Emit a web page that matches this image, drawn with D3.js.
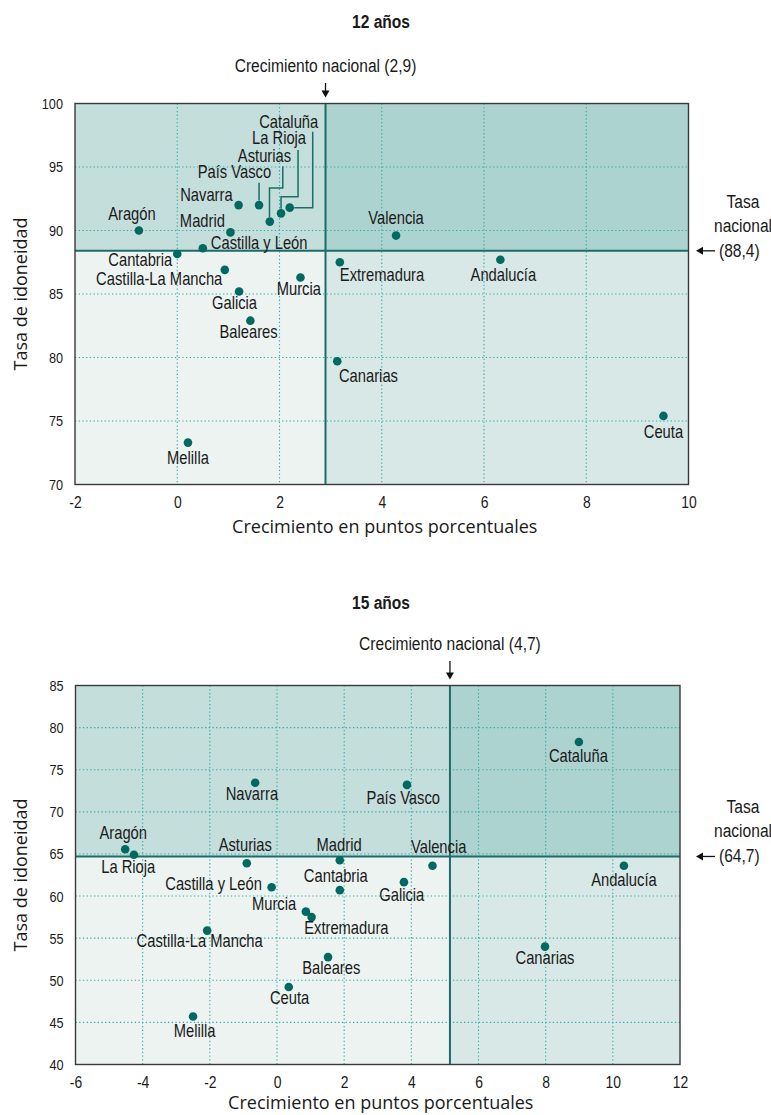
<!DOCTYPE html>
<html><head><meta charset="utf-8">
<script src="https://cdn.jsdelivr.net/npm/d3@7"></script>
<style>body{margin:0;background:#fff}</style>
</head><body><svg id="c" width="771" height="1115"></svg>
<script>
// ---------- DATA ----------
const regions12 = ["Aragón","Navarra","País Vasco","Asturias","La Rioja","Cataluña","Madrid","Castilla y León","Cantabria","Castilla-La Mancha","Murcia","Galicia","Baleares","Melilla","Canarias","Extremadura","Valencia","Andalucía","Ceuta"];
const growth12 = [-0.75,1.2,1.6,1.81,2.03,2.2,1.04,0.5,0.0,0.93,2.41,1.21,1.43,0.21,3.13,3.18,4.28,6.32,9.51];
const rate12   = [90.0,92.0,92.0,90.7,91.35,91.8,89.85,88.6,88.15,86.9,86.3,85.2,82.9,73.3,79.7,87.5,89.6,87.7,75.4];
const national12 = {growth: 2.9, rate: 88.4, growthText: "2,9", rateText: "88,4"};
const xTicks12 = [-2,0,2,4,6,8,10];
const yTicks12 = [70,75,80,85,90,95,100];

const regions15 = ["Navarra","Aragón","La Rioja","Asturias","Castilla y León","Madrid","Cantabria","Murcia","Extremadura","Castilla-La Mancha","Baleares","Ceuta","Melilla","Valencia","Galicia","Andalucía","Canarias","Cataluña","País Vasco"];
const growth15 = [-0.65,-4.52,-4.26,-0.9,-0.16,1.87,1.87,0.86,1.03,-2.08,1.52,0.35,-2.5,4.63,3.78,10.33,7.98,8.99,3.87];
const rate15   = [73.45,65.55,64.9,63.9,61.05,64.25,60.7,58.15,57.5,55.9,52.75,49.2,45.7,63.6,61.65,63.6,54.0,78.3,73.2];
const national15 = {growth: 4.7, growthLine: 5.15, rate: 64.7, growthText: "4,7", rateText: "64,7"};
const xTicks15 = [-6,-4,-2,0,2,4,6,8,10,12];
const yTicks15 = [40,45,50,55,60,65,70,75,80,85];

// ---------- LAYOUT (label offsets from dot, px) ----------
const labels12 = {
  "Aragón":[-7,-11,"middle"], "Navarra":[-6,-4.5,"end"], "Madrid":[-5.5,-5,"end"],
  "Castilla y León":[8,0.7,"start"], "Cantabria":[-5,12.3,"end"], "Castilla-La Mancha":[-2.5,15,"end"],
  "Murcia":[-1.7,17.3,"middle"], "Galicia":[-4.6,17.3,"middle"], "Baleares":[-1.8,17.3,"middle"],
  "Melilla":[0,21,"middle"], "Canarias":[1.7,20.7,"start"], "Extremadura":[0,18.7,"start"],
  "Andalucía":[3,21.4,"middle"], "Ceuta":[0,22,"middle"], "Valencia":[0,-12,"middle"],
  "País Vasco":[-24.7,-27.3,"middle"], "Asturias":[-5.3,-59.6,"middle"],
  "La Rioja":[-2,-69,"middle"], "Cataluña":[-1,-79.4,"middle"]
};
const connectors12 = {
  "País Vasco":[[0,-22.3],[0,-4.5]],
  "Asturias":[[13,-55.3],[13,-33.6],[-0.3,-33.6],[-0.3,-4.5]],
  "La Rioja":[[17,-63.3],[17,-16.6],[0,-16.6],[0,-4.5]],
  "Cataluña":[[23,-76],[23,0],[4.5,0]]
};
const labels15 = {
  "Navarra":[-3.3,17.3,"middle"], "Aragón":[-2,-10.3,"middle"], "La Rioja":[-5.7,18.3,"middle"],
  "Asturias":[-1.5,-12.3,"middle"], "Madrid":[-0.7,-9.6,"middle"], "Cantabria":[-4,-8.3,"middle"],
  "Castilla y León":[-9.7,3,"end"], "Murcia":[-9.7,-1.3,"end"], "Extremadura":[-7.4,17,"start"],
  "Castilla-La Mancha":[-7.5,16.4,"middle"], "Baleares":[3.2,16.7,"middle"], "Ceuta":[0.8,16.6,"middle"],
  "Melilla":[1.5,20.4,"middle"], "Valencia":[6.2,-12.4,"middle"], "Galicia":[-2.2,18.7,"middle"],
  "Andalucía":[0,20,"middle"], "Canarias":[0,17.7,"middle"], "Cataluña":[-0.5,19.7,"middle"],
  "País Vasco":[-3.7,19.6,"middle"]
};

// ---------- STYLE ----------
const C = {
  ul:"#c4dedb", ur:"#acd3cf", ll:"#ecf3f1", lr:"#d8e8e6",
  nat:"#1c6d67", dot:"#006a60", grid:"#33aba8", frame:"#3a3a3a", text:"#1a1a1a"
};
const COND = "'Liberation Sans',Arial,sans-serif";   // horizontally condensed via scale
const SX = 0.82;
const WIDE = "'Open Sans','Noto Sans',sans-serif";

const svg = d3.select("#c");

function ctext(g, x, y, str, size, anchor, bold){
  return g.append("text").attr("transform",`translate(${x},${y}) scale(${SX},1)`)
    .attr("text-anchor",anchor||"middle").attr("font-family",COND).attr("font-size",size)
    .attr("font-weight",bold?"bold":"normal").attr("fill",C.text).text(str);
}
function arrowDown(g, x, y1, y2){
  g.append("line").attr("x1",x).attr("x2",x).attr("y1",y1).attr("y2",y2-6)
    .attr("stroke","#111").attr("stroke-width",1.3);
  g.append("path").attr("d",`M${x-4},${y2-7}L${x+4},${y2-7}L${x},${y2}Z`).attr("fill","#111");
}
function arrowLeft(g, x1, x2, y){
  g.append("line").attr("x1",x1).attr("x2",x2+6).attr("y1",y).attr("y2",y)
    .attr("stroke","#111").attr("stroke-width",1.3);
  g.append("path").attr("d",`M${x2+7},${y-4}L${x2+7},${y+4}L${x2},${y}Z`).attr("fill","#111");
}

function drawChart(cfg){
  const {box, regions, growth, rate, nat, xTicks, yTicks, labels, connectors, title, titleY, annotY, xTitleY} = cfg;
  const g = svg.append("g");
  const x = d3.scaleLinear().domain(d3.extent(xTicks)).range([box.l, box.r]);
  const y = d3.scaleLinear().domain(d3.extent(yTicks)).range([box.b, box.t]);
  const nx = x(nat.growthLine !== undefined ? nat.growthLine : nat.growth);
  const ny = y(nat.rate);

  // quadrants
  const quads = [
    [box.l, box.t, nx, ny, C.ul], [nx, box.t, box.r, ny, C.ur],
    [box.l, ny, nx, box.b, C.ll], [nx, ny, box.r, box.b, C.lr]
  ];
  g.selectAll("rect.q").data(quads).join("rect").attr("class","q")
    .attr("x",d=>d[0]).attr("y",d=>d[1]).attr("width",d=>d[2]-d[0]).attr("height",d=>d[3]-d[1])
    .attr("fill",d=>d[4]);

  // grid
  const gx = xTicks.slice(1,-1), gy = yTicks.slice(1,-1);
  g.selectAll("line.gx").data(gx).join("line").attr("class","gx")
    .attr("x1",d=>x(d)).attr("x2",d=>x(d)).attr("y1",box.t).attr("y2",box.b)
    .attr("stroke",C.grid).attr("stroke-width",1.1).attr("stroke-dasharray","1.3,2.4");
  g.selectAll("line.gy").data(gy).join("line").attr("class","gy")
    .attr("y1",d=>y(d)).attr("y2",d=>y(d)).attr("x1",box.l).attr("x2",box.r)
    .attr("stroke",C.grid).attr("stroke-width",1.1).attr("stroke-dasharray","1.3,2.4");

  // national lines
  g.append("line").attr("x1",nx).attr("x2",nx).attr("y1",box.t).attr("y2",box.b)
    .attr("stroke",C.nat).attr("stroke-width",2);
  g.append("line").attr("x1",box.l).attr("x2",box.r).attr("y1",ny).attr("y2",ny)
    .attr("stroke",C.nat).attr("stroke-width",2);

  // frame
  g.append("rect").attr("x",box.l).attr("y",box.t).attr("width",box.r-box.l).attr("height",box.b-box.t)
    .attr("fill","none").attr("stroke",C.frame).attr("stroke-width",1.4);

  // axes tick labels (d3 axes, no tick lines)
  const fmt = d => String(d);
  const ax = g.append("g").attr("transform",`translate(0,${box.b})`)
    .call(d3.axisBottom(x).tickValues(xTicks).tickSize(0).tickPadding(0).tickFormat(fmt));
  ax.select(".domain").remove();
  ax.selectAll("text").attr("dy",null).attr("y",null)
    .attr("transform",`translate(0,23) scale(${SX},1)`)
    .attr("font-family",COND).attr("font-size",17).attr("fill",C.text);
  const ay = g.append("g").attr("transform",`translate(${box.l},0)`)
    .call(d3.axisLeft(y).tickValues(yTicks).tickSize(0).tickPadding(0).tickFormat(fmt));
  ay.select(".domain").remove();
  ay.selectAll("text").attr("x",null)
    .attr("transform",`translate(-12,0) scale(${SX},1)`)
    .attr("font-family",COND).attr("font-size",15.5).attr("fill",C.text);

  // axis titles
  g.append("text").attr("x",(box.l+box.r)/2+3).attr("y",xTitleY).attr("text-anchor","middle")
    .attr("font-family",WIDE).attr("font-size",18).attr("fill",C.text).text("Crecimiento en puntos porcentuales");
  g.append("text").attr("transform",`translate(27,${(box.t+box.b)/2}) rotate(-90)`).attr("text-anchor","middle")
    .attr("font-family",WIDE).attr("font-size",18).attr("fill",C.text).text("Tasa de idoneidad");

  // title
  ctext(g, 381, titleY, title, 19, "middle", true);

  // national growth annotation
  ctext(g, nx, annotY, `Crecimiento nacional (${nat.growthText})`, 19, "middle");
  arrowDown(g, nx, annotY+11, box.t-6);

  // national rate annotation
  const rx = 743;
  ctext(g, rx, ny-43, "Tasa", 19, "middle");
  ctext(g, rx, ny-19, "nacional", 19, "middle");
  ctext(g, 719, ny+6, `(${nat.rateText})`, 19, "start");
  arrowLeft(g, 715, 696, ny);

  const pts = regions.map((r,i)=>({name:r, px:x(growth[i]), py:y(rate[i])}));

  // connectors
  const line = d3.line();
  pts.filter(p=>connectors && connectors[p.name]).forEach(p=>{
    g.append("path").attr("d", line(connectors[p.name].map(o=>[p.px+o[0], p.py+o[1]])))
      .attr("fill","none").attr("stroke",C.nat).attr("stroke-width",1.5);
  });

  // dots
  g.selectAll("circle.d").data(pts).join("circle").attr("class","d")
    .attr("cx",d=>d.px).attr("cy",d=>d.py).attr("r",4.3).attr("fill",C.dot);

  // labels
  g.selectAll("text.lbl").data(pts).join("text").attr("class","lbl")
    .attr("transform",d=>`translate(${d.px+labels[d.name][0]},${d.py+labels[d.name][1]}) scale(${SX},1)`)
    .attr("text-anchor",d=>labels[d.name][2])
    .attr("font-family",COND).attr("font-size",18).attr("fill",C.text).text(d=>d.name);
}

drawChart({
  box:{l:75,r:688.5,t:103.5,b:484.5}, regions:regions12, growth:growth12, rate:rate12, nat:national12,
  xTicks:xTicks12, yTicks:yTicks12, labels:labels12, connectors:connectors12,
  title:"12 años", titleY:28, annotY:72, xTitleY:533
});
drawChart({
  box:{l:75.5,r:680,t:685.5,b:1064.5}, regions:regions15, growth:growth15, rate:rate15, nat:national15,
  xTicks:xTicks15, yTicks:yTicks15, labels:labels15, connectors:null,
  title:"15 años", titleY:609, annotY:650, xTitleY:1109
});
</script></body></html>
